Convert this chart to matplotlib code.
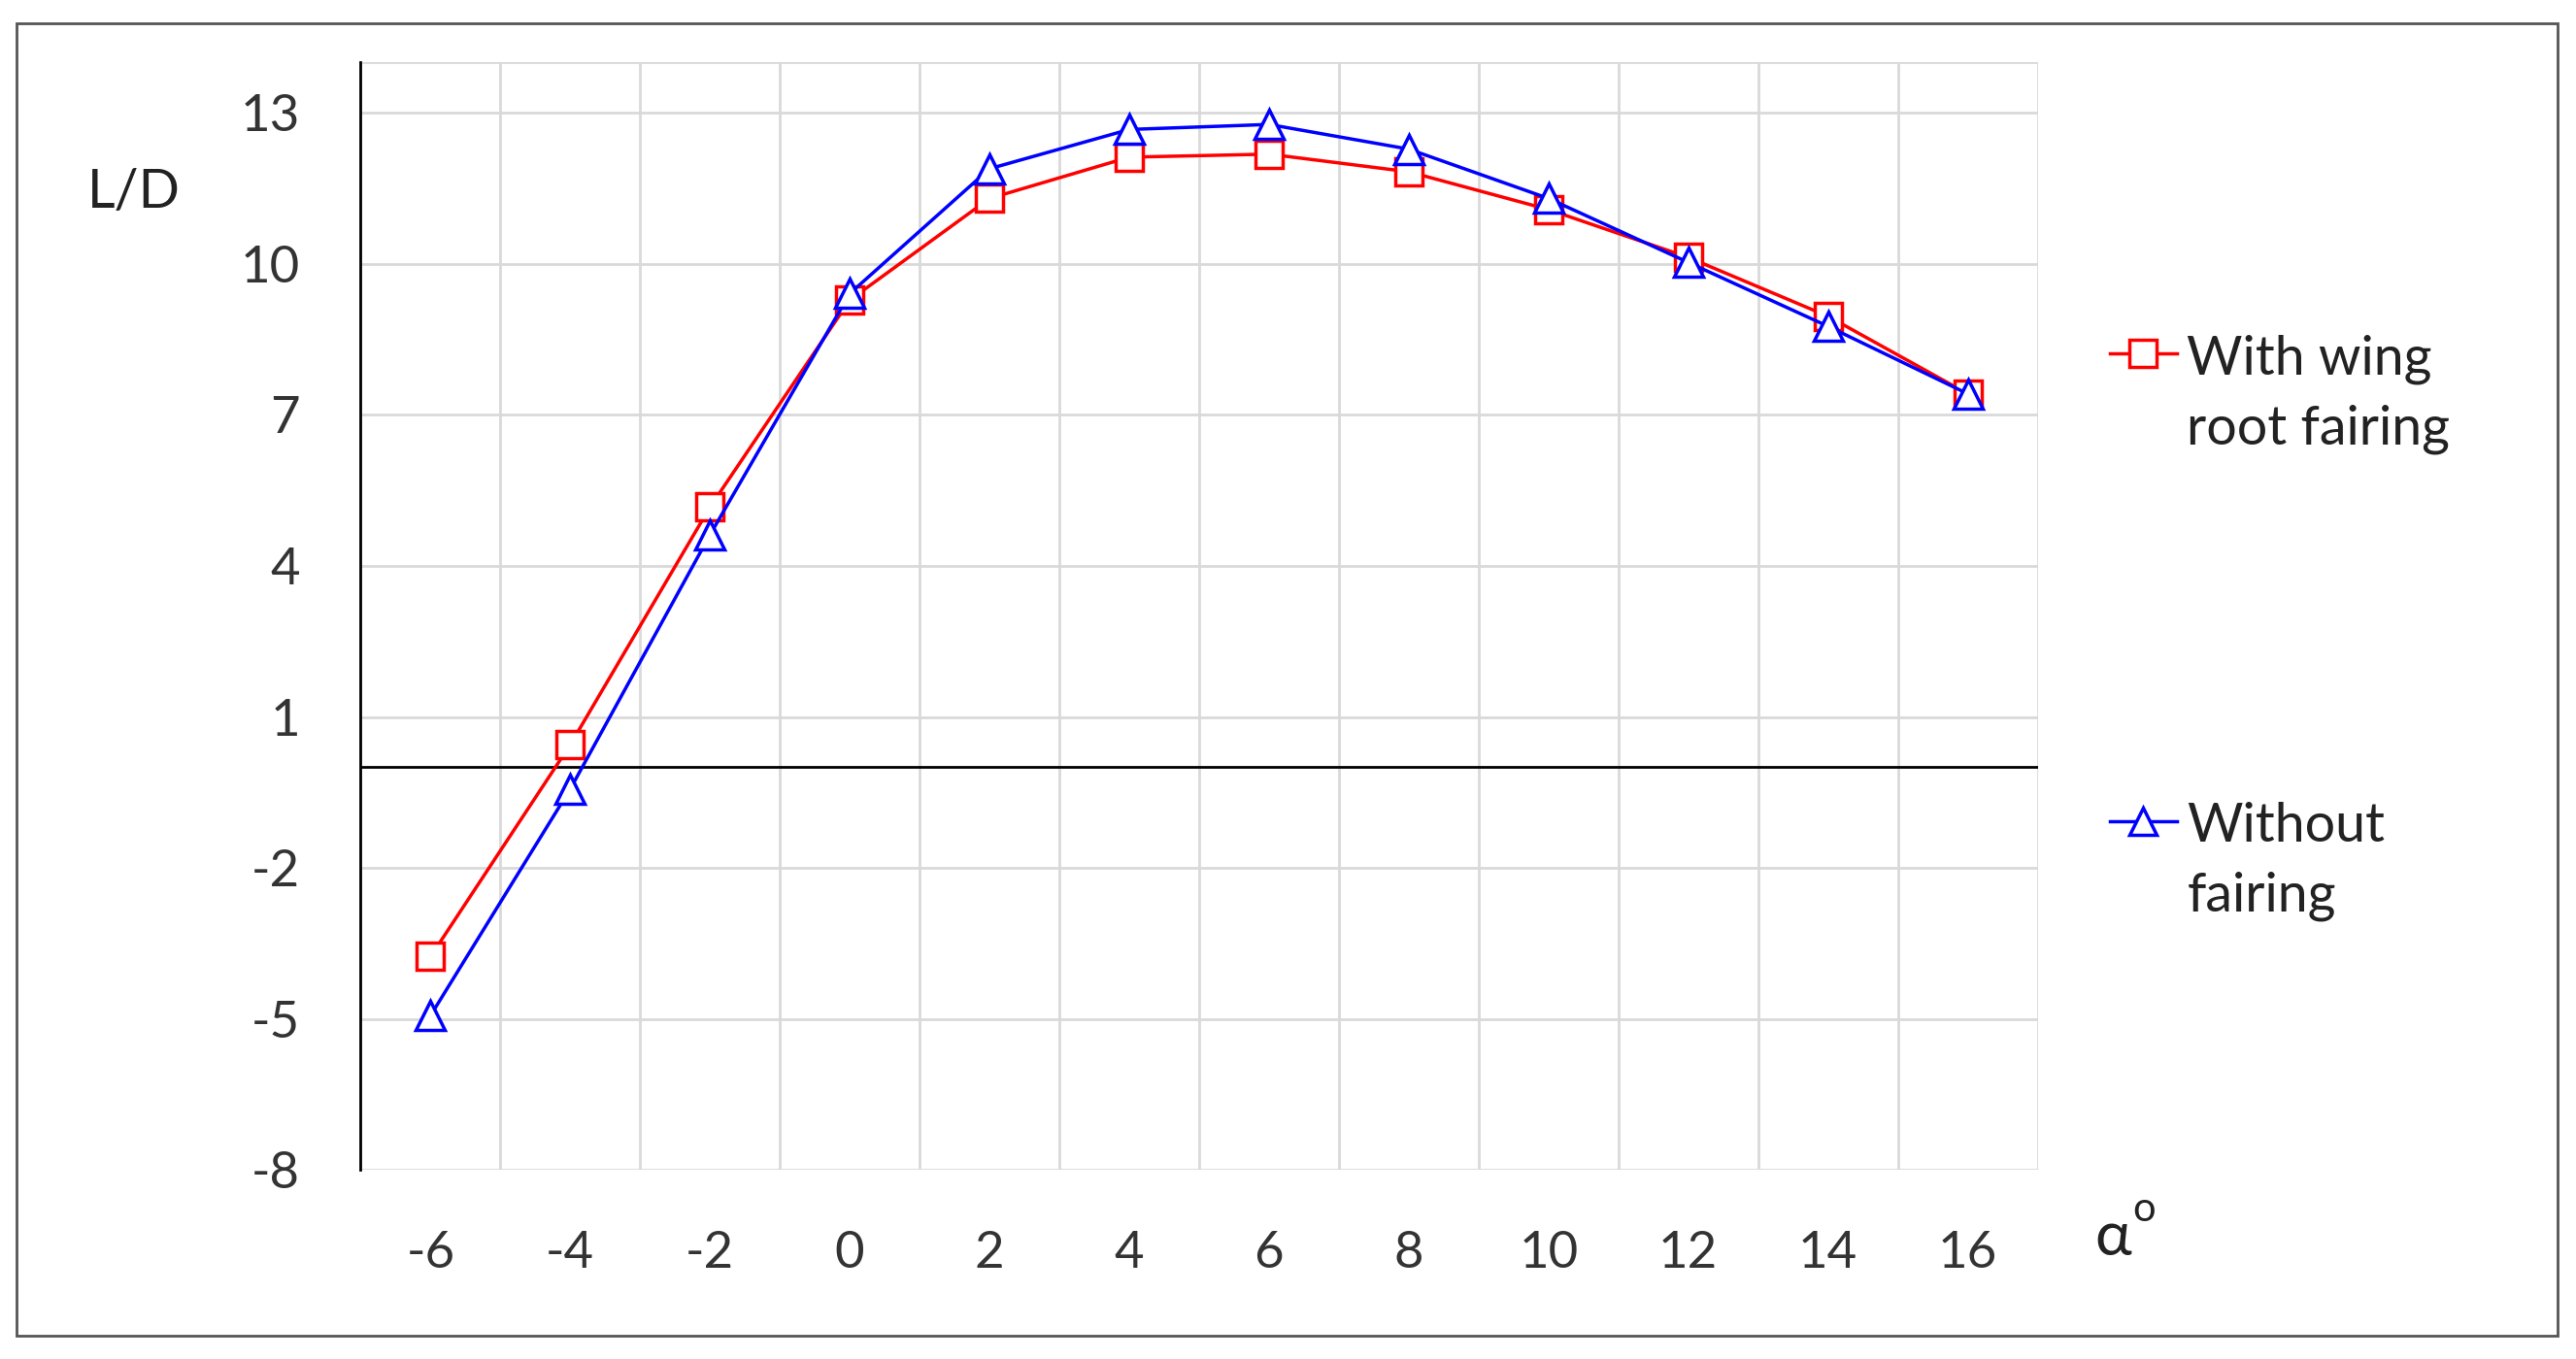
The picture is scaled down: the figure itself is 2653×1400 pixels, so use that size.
import matplotlib.pyplot as plt
from matplotlib.lines import Line2D
from matplotlib.patches import Rectangle

plt.rcParams['font.family'] = ['Lato', 'DejaVu Sans']
plt.rcParams['axes.unicode_minus'] = False

# angle of attack (deg) and L/D values
alpha = [-6, -4, -2, 0, 2, 4, 6, 8, 10, 12, 14, 16]
ld_fairing = [-3.76, 0.45, 5.17, 9.28, 11.3, 12.12, 12.18, 11.83, 11.08, 10.13, 8.96, 7.42]
ld_no_fairing = [-4.93, -0.43, 4.62, 9.41, 11.89, 12.67, 12.77, 12.28, 11.3, 10.03, 8.76, 7.42]
y_ticks = [-8, -5, -2, 1, 4, 7, 10, 13]

fig = plt.figure(figsize=(26.53, 14), dpi=100)
ax = fig.add_axes([0.140, 0.139, 0.651, 0.815])

pos = list(range(len(alpha)))
ax.plot(pos, ld_fairing, color='red', lw=2.5, marker='s', ms=20,
        mfc='white', mec='red', mew=2.5, zorder=3)
ax.plot(pos, ld_no_fairing, color='blue', lw=2.5, marker='^', ms=22,
        mfc='white', mec='blue', mew=2.5, zorder=4)

ax.set_xlim(-0.5, len(alpha) - 0.5)
ax.set_ylim(-8, 14)
ax.set_yticks(y_ticks)
ax.set_xticks(pos)
ax.set_xticklabels([str(a) for a in alpha])
ax.set_xticks([p - 0.5 for p in pos] + [len(alpha) - 0.5], minor=True)
ax.grid(False)
ax.grid(True, which='minor', axis='x', color='#d9d9d9', lw=2)
for t in y_ticks + [14]:
    ax.axhline(t, color='#d9d9d9', lw=2, zorder=1)
ax.axhline(0, color='black', lw=2, zorder=2)
for s in ['top', 'right', 'bottom']:
    ax.spines[s].set_visible(False)
ax.spines['left'].set_linewidth(2)
ax.tick_params(which='both', length=0, labelsize=38, colors='#333333')
ax.tick_params(axis='x', pad=45)
ax.tick_params(axis='y', pad=45)

fig.text(0.052, 0.858, 'L/D', fontsize=40, color='#222222', va='center', ha='center')
fig.text(0.813, 0.089, 'α', fontsize=46, color='#222222', va='center')
fig.text(0.828, 0.110, 'o', fontsize=30, color='#222222', va='center')

# legend drawn by hand, entries far apart like the original
for y, col, mk, lbl in [(0.740, 'red', 's', 'With wing\nroot fairing'),
                        (0.396, 'blue', '^', 'Without\nfairing')]:
    fig.add_artist(Line2D([0.819, 0.845], [y, y], color=col, lw=2.5,
                          transform=fig.transFigure))
    fig.add_artist(Line2D([0.832], [y], color=col, marker=mk, ms=20, mfc='white',
                          mec=col, mew=2.5, transform=fig.transFigure))
    fig.text(0.849, y - 0.030, lbl, fontsize=40, color='#222222', va='center',
             linespacing=1.5)

fig.add_artist(Rectangle((0.0064, 0.017), 0.9866, 0.966, fill=False,
                         ec='#555555', lw=2, transform=fig.transFigure))

fig.savefig('out.png', dpi=100)
